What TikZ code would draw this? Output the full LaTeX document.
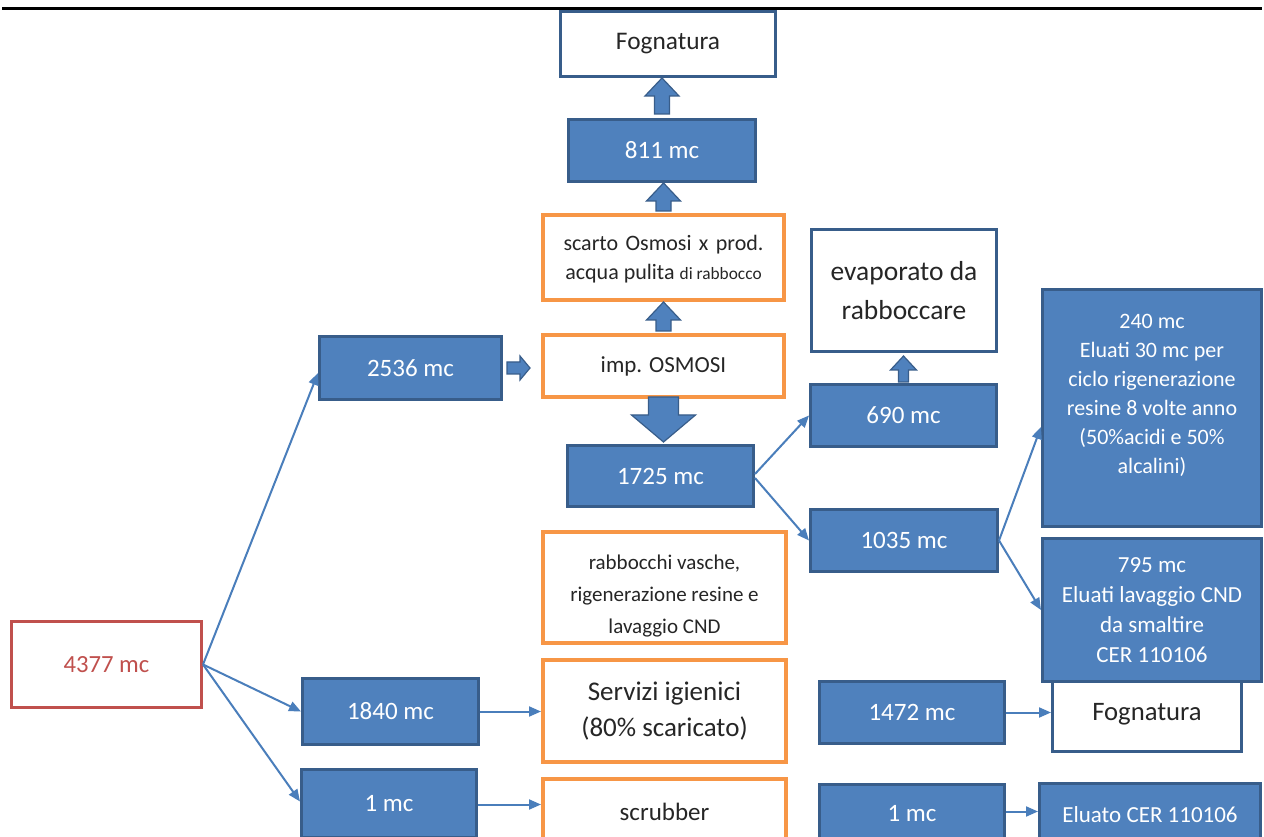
\documentclass[tikz,border=0pt]{standalone}
\usepackage{fontspec}
\setmainfont{Carlito}
\usetikzlibrary{calc,arrows.meta}
\definecolor{bfill}{RGB}{79,129,189}
\definecolor{bdark}{RGB}{56,93,138}
\definecolor{orng}{RGB}{247,150,70}
\definecolor{redc}{RGB}{192,80,77}
\definecolor{arrc}{RGB}{74,126,187}
\definecolor{tdark}{RGB}{38,38,38}
\newcommand\fs[2]{\fontsize{#1}{#2}\selectfont}
\tikzset{
  base/.style={rectangle, anchor=north west, inner sep=0pt, align=center, line width=2.25pt},
  sz/.style 2 args={minimum width=#1*0.75pt, minimum height=#2*0.75pt},
  bluebox/.style={base, fill=bfill, draw=bdark, text=white, font=\fs{18.75}{22}},
  whitebox/.style={base, fill=white, draw=bdark, text=tdark},
  orangebox/.style={base, fill=white, draw=orng, line width=3pt, text=tdark},
  redbox/.style={base, fill=white, draw=redc, text=redc, font=\fs{18.5}{22}},
  txt/.style={inner sep=0pt, align=center},
  flow/.style={draw=arrc, line width=1.5pt, -{Triangle[length=9pt,width=7.5pt]}},
  blk/.style={fill=bfill, draw=bdark, line width=0.9pt, line join=miter}
}
% block arrows: #1 from node, #2 to node, #3 shaft half, #4 head half, #5 head length, #6 start gap, #7 end gap (all px)
\newcommand\blkup[7]{%
  \filldraw[blk] let \p1=(#1.north), \p2=(#2.south) in
  (\x1-#3*0.75pt,\y1+#6*0.75pt) -- (\x1-#3*0.75pt,\y2-#7*0.75pt-#5*0.75pt) -- (\x1-#4*0.75pt,\y2-#7*0.75pt-#5*0.75pt) -- (\x1,\y2-#7*0.75pt)
  -- (\x1+#4*0.75pt,\y2-#7*0.75pt-#5*0.75pt) -- (\x1+#3*0.75pt,\y2-#7*0.75pt-#5*0.75pt) -- (\x1+#3*0.75pt,\y1+#6*0.75pt) -- cycle;}
\newcommand\blkdown[7]{%
  \filldraw[blk] let \p1=(#1.south), \p2=(#2.north) in
  (\x1-#3*0.75pt,\y1-#6*0.75pt) -- (\x1-#3*0.75pt,\y2+#7*0.75pt+#5*0.75pt) -- (\x1-#4*0.75pt,\y2+#7*0.75pt+#5*0.75pt) -- (\x1,\y2+#7*0.75pt)
  -- (\x1+#4*0.75pt,\y2+#7*0.75pt+#5*0.75pt) -- (\x1+#3*0.75pt,\y2+#7*0.75pt+#5*0.75pt) -- (\x1+#3*0.75pt,\y1-#6*0.75pt) -- cycle;}
\newcommand\blkright[7]{%
  \filldraw[blk] let \p1=(#1.east), \p2=(#2.west) in
  (\x1+#6*0.75pt,\y1-#3*0.75pt) -- (\x2-#7*0.75pt-#5*0.75pt,\y1-#3*0.75pt) -- (\x2-#7*0.75pt-#5*0.75pt,\y1-#4*0.75pt) -- (\x2-#7*0.75pt,\y1)
  -- (\x2-#7*0.75pt-#5*0.75pt,\y1+#4*0.75pt) -- (\x2-#7*0.75pt-#5*0.75pt,\y1+#3*0.75pt) -- (\x1+#6*0.75pt,\y1+#3*0.75pt) -- cycle;}
\begin{document}
\begin{tikzpicture}[x=0.75pt,y=-0.75pt]
\useasboundingbox (0,0) rectangle (1264,837);
\clip (0,0) rectangle (1264,837);
\fill[white] (0,0) rectangle (1264,837);
\draw[line width=2.25pt, black] (2,9) -- (1262,9);

% top column
\node[whitebox, sz={215}{65}, font=\fs{19}{22}] (fogtop) at (559,10) {\raisebox{-2pt}{Fognatura}};
\node[bluebox, sz={187}{62}] (b811) at (567,118) {811 mc};
\node[orangebox, sz={241}{85}] (scarto) at (541,213) {};
\node[txt, text=tdark, font=\fs{16.5}{21.75}] (tscarto) at ($(scarto.center)+(0,2)$) {\makebox[200\dimexpr0.75pt\relax][s]{scarto Osmosi x prod.}\\acqua pulita {\fs{13}{21.75}di rabbocco}};
\node[orangebox, sz={241}{62}, font=\fs{17.25}{21}] (osm) at (541,333) {imp. OSMOSI};
\node[bluebox, sz={182}{63}] (b2536) at (318,335) {2536 mc};
\node[bluebox, sz={186}{61}] (b1725) at (566,444) {1725 mc};

% middle right
\node[whitebox, sz={185}{122}, font=\fs{20.6}{29}] (evap) at (810,228) {evaporato da\\rabboccare};
\node[bluebox, sz={186}{62}] (b690) at (809,383) {690 mc};
\node[bluebox, sz={187}{62}] (b1035) at (809,508) {1035 mc};
\node[bluebox, sz={219}{237}] (b240) at (1041,288) {};
\node[txt, text=white, font=\fs{16.5}{21.75}] (t240) at ($(b240.center)+(0,-13)$) {240 mc\\Eluati 30 mc per\\ciclo rigenerazione\\resine 8 volte anno\\(50\%acidi e 50\%\\alcalini)};
\node[whitebox, sz={189}{74}, font=\fs{20}{24}] (fogright) at (1051,676) {\raisebox{-4pt}{Fognatura}};
\node[bluebox, sz={219}{143}, font=\fs{17.25}{22.5}] (b795) at (1041,537) {795 mc\\Eluati lavaggio CND\\da smaltire\\CER 110106};
\node[bluebox, sz={185}{62}] (b1472) at (818,680) {1472 mc};
\node[bluebox, sz={185}{58}] (b1r) at (818,783) {1 mc};
\node[bluebox, sz={221}{62}, font=\fs{17.25}{21}] (eluato) at (1038,782) {Eluato CER 110106};

% left and lower
\node[redbox, sz={190}{86}] (b4377) at (10,620) {4377 mc};
\node[bluebox, sz={176}{66}] (b1840) at (301,677) {1840 mc};
\node[bluebox, sz={175}{68}] (b1l) at (300,768) {1 mc};
\node[orangebox, sz={243}{111}] (rabb) at (541,530) {};
\node[txt, text=tdark, font=\fs{15.75}{24}] (trabb) at ($(rabb.center)+(0,9)$) {rabbocchi vasche,\\rigenerazione resine e\\lavaggio CND};
\node[orangebox, sz={243}{102}, font=\fs{20.25}{27}] (serv) at (541,658) {Servizi igienici\\(80\% scaricato)};
\node[orangebox, sz={243}{66}, font=\fs{18.75}{22}] (scrub) at (541,777) {scrubber};

% block arrows
\blkup{b811}{fogtop}{7.5}{17}{18}{4}{0}
\blkup{scarto}{b811}{7.5}{17}{18}{2}{0}
\blkup{osm}{scarto}{7.5}{17}{18}{2}{0}
\blkdown{osm}{b1725}{15}{32}{27}{-2}{2}
\blkup{b690}{evap}{5}{13}{14}{1}{3}
\blkright{b2536}{osm}{6}{12}{10}{4}{11}

% thin flow arrows
\draw[flow] (b4377.east) -- ($(b2536.west)+(0,5)$);
\draw[flow] (b4377.east) -- (b1840.west);
\draw[flow] (b4377.east) -- ($(b1l.west)+(0,-2)$);
\draw[flow] (b1840.east) -- (b1840.east -| serv.west);
\draw[flow] ($(b1l.east)+(0,1)$) -- ($(b1l.east -| scrub.west)+(0,1)$);
\draw[flow] ($(b1725.east)+(0,-2)$) -- (b690.west);
\draw[flow] ($(b1725.east)+(0,2)$) -- (b1035.west);
\draw[flow] (b1035.east) -- ($(b240.west)+(0,19)$);
\draw[flow] (b1035.east) -- (b795.west);
\draw[flow] (b1472.east) -- (b1472.east -| fogright.west);
\draw[flow] ($(b1r.east)+(0,-2)$) -- ($(b1r.east -| eluato.west)+(0,-2)$);
\end{tikzpicture}
\end{document}
